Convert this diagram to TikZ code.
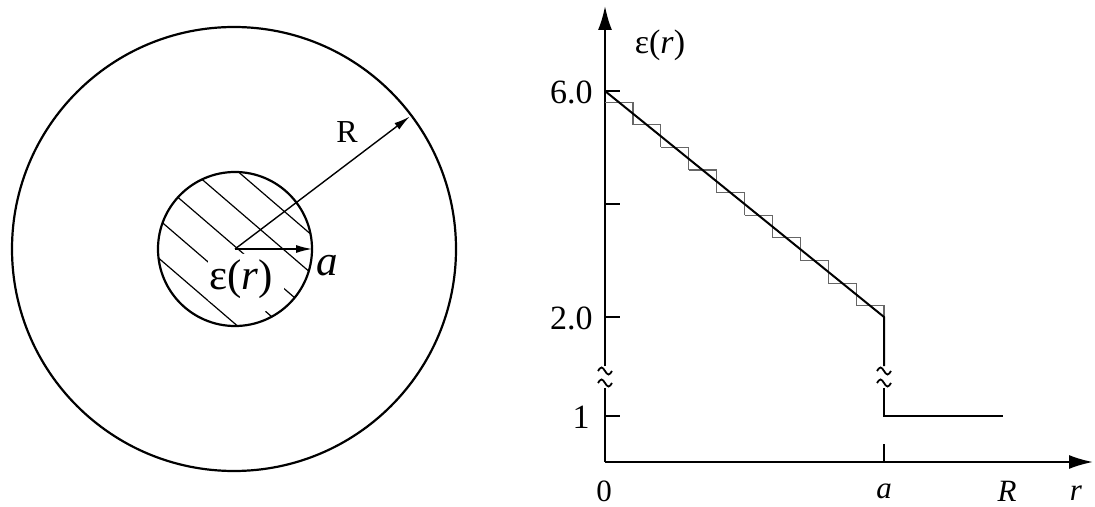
\documentclass[tikz,border=0pt]{standalone}
\usepackage{fontspec}
\setmainfont{Liberation Serif}
\usetikzlibrary{arrows.meta}
\newcommand\brkmark[2]{\draw[brk] (#1-7,#2) sin (#1-3.5,#2-3.5) cos (#1,#2) sin (#1+3.5,#2+3.5) cos (#1+7,#2);}
\begin{document}
\begin{tikzpicture}[x=0.5pt,y=-0.5pt,
  ring/.style={circle, draw, line width=1.1pt, inner sep=0pt, outer sep=0pt},
  axisarrow/.style={line width=1pt,-{Latex[length=12pt,width=7pt]}},
  axisline/.style={line width=1pt},
  smallarrow/.style={line width=0.7pt,-{Latex[length=8pt,width=4pt]}},
  hatch/.style={line width=0.6pt},
  stair/.style={line width=0.6pt, black!60},
  tickmark/.style={line width=1pt},
  curve/.style={line width=1pt},
  brk/.style={line width=0.9pt},
  big/.style={inner sep=0pt, font=\fontsize{21.5}{25}\selectfont},
  mid/.style={inner sep=0pt, font=\fontsize{17}{20}\selectfont},
  small/.style={inner sep=0pt, font=\fontsize{15.5}{18}\selectfont},
]
\useasboundingbox (0,0) rectangle (1095,507);

% ---------- left: cross-section ----------
\coordinate (O) at (235,249);
\node[ring, minimum size=222pt] (outer) at (234,249) {};
\begin{scope}
  \clip (235,249) circle[radius=77];
  \foreach \c in {148,193,238,283,328}
    \draw[hatch] (\c-200,249-172) -- (\c+200,249+172);
  \fill[white] (208,254) -- (284,254) -- (284,296) -- (262,314) -- (230,314) -- (208,300) -- cycle;
\end{scope}
\node[ring, minimum size=77pt] (inner) at (235,249) {};
\draw[smallarrow] (O) -- (inner.east);
\draw[smallarrow, shorten >=1pt] (O) -- (outer.37);
\node[small, font=\fontsize{16}{19}\selectfont] (labR) at (347,132) {R};
\node[big] (laba) at (327,266) {\textit{a}};
\node[big] (labeps) at (241,279) {ε(\textit{r})};

% ---------- right: graph ----------
\coordinate (o) at (605,462);
\coordinate (ytop) at (605,6);
\coordinate (xend) at (1093,462);
\coordinate (yb1) at (605,388);
\coordinate (yb2) at (605,366);
\draw[axisline] (o) -- (yb1);
\draw[axisarrow] (yb2) -- (ytop);
\brkmark{605}{371}
\brkmark{605}{383}
\draw[axisarrow] (o) -- (xend);

\foreach \y in {91,204,317,416}
  \draw[tickmark] (605,\y) -- (620,\y);
\draw[tickmark] (884,444) -- (884,462);

\node[mid, anchor=east] (t6) at (593,92) {6.0};
\node[mid, anchor=east] (t2) at (593,318) {2.0};
\node[mid, anchor=east] (t1) at (590,417) {1};
\node[mid] (yl) at (660,45) {ε(\textit{r})};

\node[small] (x0) at (604,491) {0};
\node[small] (xa) at (884,491) {\textit{a}};
\node[small] (xR) at (1007,491) {\textit{R}};
\node[small] (xr) at (1076,493) {\textit{r}};

% staircase approximation
\foreach \i in {0,...,9}{
  \pgfmathsetmacro\xa{605+27.9*\i}
  \pgfmathsetmacro\xb{605+27.9*(\i+1)}
  \pgfmathsetmacro\ya{91+22.6*(\i+0.5)}
  \pgfmathsetmacro\yb{\ya+22.6}
  \draw[stair] (\xa,\ya) -- (\xb,\ya) -- (\xb,\yb);
}

\coordinate (p6) at (605,91);
\coordinate (p2) at (884,317);
\coordinate (pb1) at (884,366);
\coordinate (pb2) at (884,388);
\coordinate (p1) at (884,416);
\coordinate (pend) at (1003,416);
\draw[curve] (p6) -- (p2) -- (pb1);
\brkmark{884}{371}
\brkmark{884}{383}
\draw[curve] (pb2) -- (p1) -- (pend);
\end{tikzpicture}
\end{document}
